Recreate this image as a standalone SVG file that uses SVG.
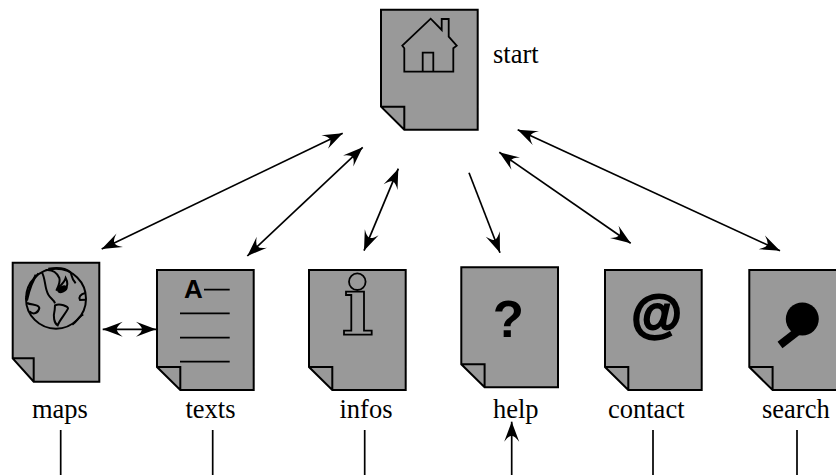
<svg xmlns="http://www.w3.org/2000/svg" width="836" height="475" viewBox="0 0 836 475">
<style>
.doc{fill:#999;stroke:#000;stroke-width:2;stroke-linejoin:miter}
.ico{fill:none;stroke:#000;stroke-width:1.8}
.lbl{font-family:"Liberation Serif","Times New Roman",serif;font-size:26.5px;fill:#000}
.con{fill:none;stroke:#000;stroke-width:1.7}
.arr{marker-end:url(#h)}
.bi{marker-start:url(#h);marker-end:url(#h)}
</style>
<defs>
<marker id="h" markerUnits="userSpaceOnUse" markerWidth="24" markerHeight="20" viewBox="0 0 24 20" refX="22" refY="10" orient="auto-start-reverse">
<path d="M22,10 L2,2.500 Q8,7 8,10 Q8,13 2,17.500 Z" fill="#000"/>
</marker>
<path id="sheet" d="M0,0 H96.7 V120 H23.3 L0,97 Z M0,97 H23.3 V120"/>
</defs>
<rect width="836" height="475" fill="#fff"/>

<g id="start">
<use href="#sheet" class="doc" x="381" y="9.7"/>
<path class="ico" d="M404.3,71.7 V48.3 L402.3,45.7 L430.7,18.7 L441.7,30 V19 H448.7 V36.7 L456.7,45.7 L453.3,48.3 V71.7 Z M422.7,71.7 V52.7 H433.3 V71.7"/>
<text class="lbl" x="493" y="63">start</text>
</g>

<g id="maps">
<path class="doc" d="M12.7,262.7 H99.3 V381.7 H33.7 L12.7,358.3 Z M12.7,358.3 H33.7 V381.7"/>
<g transform="translate(15,258) scale(0.3333)" fill="none" stroke="#000" stroke-width="6">
<circle cx="123" cy="122" r="90"/>
<path d="M70,46 C52,66 42,100 36,128 M62,50 C50,74 40,100 34,118"/>
<path d="M80,42 C92,60 88,90 100,110 C106,122 116,124 120,136"/>
<path d="M92,36 C112,34 126,44 133,60 C137,72 130,85 124,98 C132,84 148,76 152,60 C160,74 158,86 150,96"/>
<path d="M100,32 C125,28 152,30 166,42 C172,52 168,62 182,76"/>
<path d="M36,135 C50,142 70,138 73,150 C70,165 55,172 44,160"/>
<path d="M120,142 C135,134 160,146 159,152 C150,170 136,182 128,202 C117,196 114,175 119,156 Z"/>
<path d="M211,105 C196,108 190,118 195,126 L211,125"/>
<path d="M205,170 C192,172 188,190 172,200"/>
<ellipse cx="142" cy="94" rx="13" ry="7" transform="rotate(-25 142 94)" fill="#000"/>
</g>
<text class="lbl" x="32" y="418">maps</text>
</g>

<g id="texts">
<use href="#sheet" class="doc" x="157" y="270"/>
<text x="184" y="298.3" font-family="'Liberation Sans',Arial,sans-serif" font-weight="bold" font-size="26px">A</text>
<path class="ico" d="M204,289.7 H229.7 M180,313.3 H229.7 M180,337.7 H229.7 M180,361.7 H229.7"/>
<text class="lbl" x="185.500" y="418">texts</text>
</g>

<g id="infos">
<use href="#sheet" class="doc" x="309" y="270"/>
<circle class="ico" cx="357.300" cy="281.700" r="8.300"/>
<path class="ico" d="M346,291.700 H364 V330.700 H371.700 V334.700 H344 V330.700 H351.300 V295 H346 Z"/>
<text class="lbl" x="339.500" y="418">infos</text>
</g>

<g id="help">
<use href="#sheet" class="doc" x="461.300" y="267.300"/>
<text x="508.300" y="337.300" text-anchor="middle" font-family="'Liberation Sans',Arial,sans-serif" font-weight="bold" font-size="51px">?</text>
<text class="lbl" x="493" y="418">help</text>
</g>

<g id="contact">
<use href="#sheet" class="doc" x="605" y="270"/>
<text x="656.700" y="331" text-anchor="middle" font-family="'Liberation Sans',Arial,sans-serif" font-weight="bold" font-size="52px" stroke="#000" stroke-width="2">@</text>
<text class="lbl" x="608" y="418">contact</text>
</g>

<g id="search">
<use href="#sheet" class="doc" x="749.300" y="270"/>
<circle cx="802.300" cy="319" r="16.500" fill="#000"/>
<path d="M798,331 L780,345" fill="none" stroke="#000" stroke-width="8"/>
<text class="lbl" x="762" y="418">search</text>
</g>

<g id="connectors">
<path class="con bi" d="M101.700,249 L342.700,133.300"/>
<path class="con bi" d="M247.300,256 L362.700,147.300"/>
<path class="con bi" d="M364,250.700 L398.300,168.700"/>
<path class="con arr" d="M469,172.700 L500,252.700"/>
<path class="con bi" d="M499.300,152.300 L630.700,243.300"/>
<path class="con bi" d="M517.700,129.700 L780,250.700"/>
<path class="con bi" d="M102.700,329.300 L156,329.300"/>
<path class="con" d="M60.700,430 V475 M212.700,430 V475 M364.700,430 V475 M653,430 V475 M797,430 V475"/>
<path class="con arr" d="M511.700,475 V421.700"/>
</g>
</svg>
